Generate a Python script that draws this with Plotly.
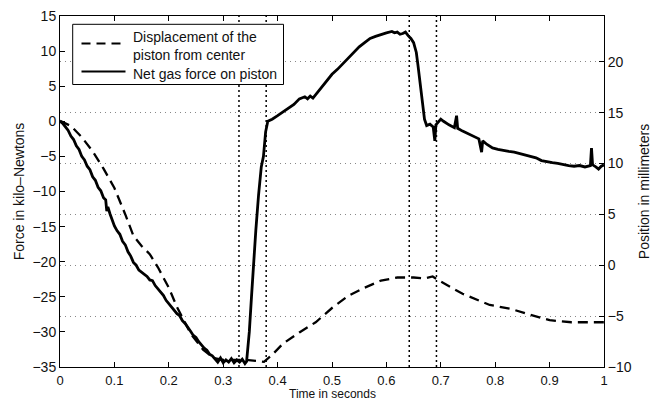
import plotly.graph_objects as go

# Net gas force on piston (kN) vs time (s)
force_t = [0.000, 0.005, 0.010, 0.015, 0.020, 0.025, 0.030, 0.035, 0.040, 0.045,
           0.050, 0.055, 0.060, 0.065, 0.070, 0.075, 0.080, 0.084, 0.086, 0.088,
           0.092, 0.096, 0.100, 0.105, 0.110, 0.115, 0.120, 0.125, 0.130, 0.135,
           0.140, 0.145, 0.150, 0.155, 0.160, 0.165, 0.170, 0.175, 0.180, 0.185,
           0.190, 0.195, 0.200, 0.205, 0.210, 0.215, 0.220, 0.225, 0.230, 0.235,
           0.240, 0.245, 0.250, 0.255, 0.260, 0.265, 0.270, 0.275, 0.280, 0.285,
           0.290, 0.295, 0.300, 0.305, 0.310, 0.315, 0.320, 0.325, 0.330, 0.335,
           0.340, 0.343, 0.348, 0.352, 0.356, 0.360, 0.365, 0.370, 0.374, 0.378,
           0.382, 0.390, 0.400, 0.410, 0.420, 0.430, 0.440, 0.450, 0.455, 0.460,
           0.465, 0.470, 0.480, 0.490, 0.500, 0.510, 0.520, 0.530, 0.540, 0.550,
           0.560, 0.570, 0.580, 0.590, 0.600, 0.610, 0.615, 0.620, 0.625, 0.630,
           0.635, 0.640, 0.645, 0.650, 0.655, 0.658, 0.662, 0.666, 0.670, 0.674,
           0.680, 0.686, 0.689, 0.691, 0.695, 0.700, 0.705, 0.710, 0.715, 0.720,
           0.725, 0.729, 0.731, 0.740, 0.750, 0.760, 0.770, 0.775, 0.777, 0.785,
           0.795, 0.805, 0.815, 0.825, 0.835, 0.845, 0.855, 0.865, 0.875, 0.885,
           0.895, 0.905, 0.915, 0.925, 0.935, 0.945, 0.955, 0.965, 0.975, 0.977,
           0.979, 0.985, 0.990, 0.995, 1.000]
force_kn = [0.0, -0.3, -0.8, -1.3, -2.1, -2.6, -3.5, -4.0, -5.0, -5.5,
            -6.4, -6.9, -7.9, -8.4, -9.4, -9.9, -10.9, -11.2, -12.8, -12.2,
            -13.2, -14.0, -14.9, -15.6, -16.1, -17.1, -17.6, -18.6, -19.2, -20.1,
            -20.5, -21.2, -21.5, -21.9, -22.1, -22.6, -22.7, -23.4, -23.9, -24.4,
            -24.8, -25.5, -26.0, -26.5, -26.9, -27.4, -27.7, -28.4, -28.8, -29.3,
            -29.9, -30.5, -30.8, -31.4, -31.9, -32.3, -32.6, -33.2, -33.4, -33.8,
            -34.3, -33.7, -34.4, -34.0, -34.3, -33.8, -34.4, -34.0, -34.3, -33.9,
            -34.5, -34.2, -30.0, -25.0, -20.0, -15.5, -10.5, -6.5, -5.0, -1.5,
            0.0, 0.3, 0.8, 1.3, 1.9, 2.4, 3.2, 3.5, 3.2, 3.6,
            3.3, 3.8, 4.8, 5.8, 6.7, 7.4, 8.2, 9.0, 9.8, 10.6,
            11.2, 11.8, 12.1, 12.4, 12.6, 12.8, 12.6, 12.7, 12.4, 12.5,
            12.7, 12.2, 11.8, 11.2, 9.8, 8.0, 5.1, 2.5, 0.3, -0.6,
            -0.4, -0.8, -2.8, -0.5, -0.2, 0.3, 0.0, -0.3, -0.5, -0.7,
            -0.9, 0.8, -1.0, -1.4, -1.8, -2.2, -2.5, -4.4, -2.8, -3.3,
            -3.8, -4.0, -4.2, -4.3, -4.4, -4.6, -4.7, -4.9, -5.2, -5.6,
            -5.8, -5.9, -6.0, -6.2, -6.3, -6.4, -6.3, -6.5, -6.3, -3.8,
            -6.2, -6.5, -6.8, -6.4, -6.2]

# Displacement of the piston from center (mm) vs time (s)
disp_t = [0.000, 0.020, 0.040, 0.060, 0.080, 0.100, 0.120, 0.135, 0.150, 0.165,
          0.180, 0.200, 0.215, 0.240, 0.263, 0.282, 0.300, 0.320, 0.340, 0.360,
          0.375, 0.390, 0.410, 0.440, 0.470, 0.500, 0.530, 0.560, 0.590, 0.620,
          0.650, 0.670, 0.685, 0.700, 0.740, 0.790, 0.830, 0.860, 0.900, 0.940,
          1.000]
disp_mm = [14.2, 13.7, 12.6, 11.2, 9.5, 7.6, 5.0, 2.9, 1.9, 1.1,
           -0.2, -2.2, -4.1, -6.7, -8.3, -9.1, -9.3, -9.3, -9.3, -9.4,
           -9.5, -8.8, -7.7, -6.6, -5.6, -4.2, -3.0, -2.2, -1.5, -1.2,
           -1.2, -1.3, -1.1, -1.6, -2.8, -3.9, -4.3, -4.8, -5.4, -5.6,
           -5.6]

event_times = [0.329, 0.379, 0.642, 0.692]

x_ticks = [0, 0.1, 0.2, 0.3, 0.4, 0.5, 0.6, 0.7, 0.8, 0.9, 1]
x_ticklabels = ["0", "0.1", "0.2", "0.3", "0.4", "0.5", "0.6", "0.7", "0.8", "0.9", "1"]
force_ticks = [-35, -30, -25, -20, -15, -10, -5, 0, 5, 10, 15]
pos_ticks = [-10, -5, 0, 5, 10, 15, 20]

legend_labels = ["Displacement of the<br>piston from center", "Net gas force on piston"]

FONT = "Liberation Sans, Arial, Helvetica, sans-serif"
FS = 14
W, H = 652, 402
ML, MR, MT, MB = 60, 48, 16, 35
PW, PH = W - ML - MR, H - MT - MB


def px(xp):
    return (xp - ML) / PW


def py(yp):
    return (H - MB - yp) / PH


fig = go.Figure()
fig.add_trace(go.Scatter(
    x=disp_t, y=disp_mm, yaxis="y2", mode="lines", showlegend=False,
    name=legend_labels[0].replace("<br>", " "),
    line=dict(color="black", width=2.3, dash="10px,6px"),
))
fig.add_trace(go.Scatter(
    x=force_t, y=force_kn, yaxis="y", mode="lines", showlegend=False,
    name=legend_labels[1],
    line=dict(color="black", width=2.8),
))

for t in event_times:
    fig.add_shape(type="line", xref="x", yref="paper", x0=t, x1=t, y0=0, y1=1,
                  line=dict(color="black", width=1.5, dash="2px,3px"), layer="below")

# legend box (boxed key in the upper-left corner)
fig.add_shape(type="rect", xref="paper", yref="paper",
              x0=px(72.7), x1=px(283.5), y0=py(84.5), y1=py(24.3),
              line=dict(color="black", width=1), fillcolor="white", layer="above")
fig.add_shape(type="line", xref="paper", yref="paper",
              x0=px(81.5), x1=px(125.5), y0=py(43.5), y1=py(43.5),
              line=dict(color="black", width=2, dash="9px,6px"), layer="above")
fig.add_shape(type="line", xref="paper", yref="paper",
              x0=px(81.5), x1=px(125.5), y0=py(71.5), y1=py(71.5),
              line=dict(color="black", width=2), layer="above")
fig.add_annotation(xref="paper", yref="paper", x=px(130.5), y=py(46),
                   xanchor="left", yanchor="middle", align="left", showarrow=False,
                   text=legend_labels[0], font=dict(family=FONT, size=FS, color="#111"))
fig.add_annotation(xref="paper", yref="paper", x=px(130.5), y=py(73.5),
                   xanchor="left", yanchor="middle", align="left", showarrow=False,
                   text=legend_labels[1], font=dict(family=FONT, size=FS, color="#111"))

# x-axis title placed just below the tick labels, at the bottom edge
fig.add_annotation(xref="paper", yref="paper", x=0.5, y=py(402),
                   xanchor="center", yanchor="bottom", showarrow=False,
                   borderpad=0, text="Time in seconds",
                   font=dict(family=FONT, size=12, color="#111"))

fig.update_layout(
    width=W, height=H,
    margin=dict(l=ML, r=MR, t=MT, b=MB),
    paper_bgcolor="white", plot_bgcolor="white",
    font=dict(family=FONT, size=FS, color="#111"),
    showlegend=False,
    xaxis=dict(
        range=[0, 1], tickvals=x_ticks, ticktext=x_ticklabels, automargin=False,
        ticks="inside", ticklen=5, tickcolor="black", ticklabelstandoff=1,
        tickfont=dict(size=13),
        showline=True, linecolor="black", linewidth=1, mirror="ticks",
        showgrid=False, zeroline=False,
    ),
    yaxis=dict(
        range=[-35, 15], tickvals=force_ticks, automargin=False,
        ticks="inside", ticklen=5, tickcolor="black",
        showline=True, linecolor="black", linewidth=1,
        showgrid=False, zeroline=False,
        title=dict(text="Force in kilo–Newtons", standoff=4, font=dict(size=FS)),
    ),
    yaxis2=dict(
        range=[-10, 24.51], tickvals=pos_ticks, overlaying="y", side="right",
        automargin=False,
        ticks="inside", ticklen=5, tickcolor="black",
        showline=True, linecolor="black", linewidth=1,
        showgrid=True, gridcolor="#888", gridwidth=1, griddash="1px,4px",
        zeroline=False,
        title=dict(text="Position in millimeters", standoff=8, font=dict(size=FS)),
    ),
)

fig.write_html("out.html")
